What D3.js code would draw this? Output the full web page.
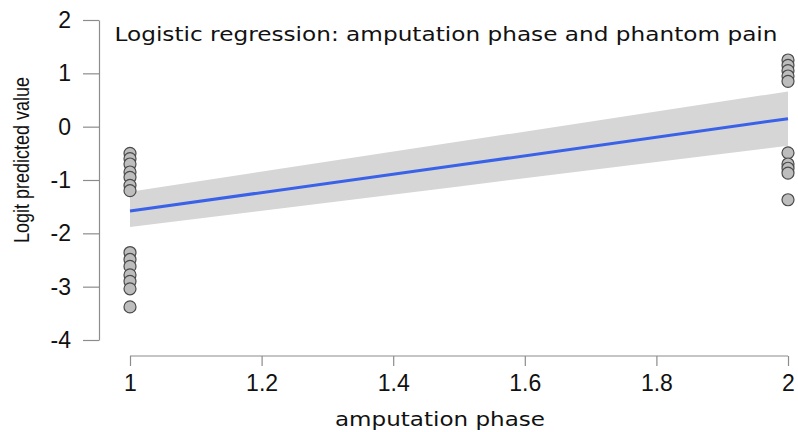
<!DOCTYPE html>
<html>
<head>
<meta charset="utf-8">
<script src="https://cdn.jsdelivr.net/npm/d3@7"></script>
<style>
  body { margin: 0; background: #fff; }
  svg { display: block; }
  .axis path, .axis line { stroke: #8c8c8c; stroke-width: 1.2; }
  .axis text { fill: #111; font-family: "Liberation Sans", Arial, sans-serif; font-size: 23px; }
</style>
</head>
<body>
<svg id="chart" width="798" height="432"></svg>
<script>
// Observed points: amputation phase (1 or 2) and logit predicted value
const phase1Values = [-0.5, -0.6, -0.7, -0.85, -0.95, -1.1, -1.2, -2.36, -2.49, -2.62, -2.78, -2.9, -3.04, -3.38];
const phase2Values = [1.25, 1.15, 1.05, 0.95, 0.85, -0.49, -0.7, -0.78, -0.87, -1.37];

// Fitted line and confidence band
const fitX = [1, 1.5, 2];
const fitY = [-1.58, -0.72, 0.15];
const bandLower = [-1.88, -1.12, -0.36];
const bandUpper = [-1.22, -0.28, 0.66];

const xTicks = [1, 1.2, 1.4, 1.6, 1.8, 2];
const yTicks = [-4, -3, -2, -1, 0, 1, 2];

const svg = d3.select('#chart');

const x = d3.scaleLinear().domain([1, 2]).range([130, 788]);
const y = d3.scaleLinear().domain([-4, 2]).range([340, 20]);

// Confidence band
const fit = fitX.map((d, i) => ({ x: d, y: fitY[i], lo: bandLower[i], hi: bandUpper[i] }));

svg.append('path')
    .datum(fit)
    .attr('fill', '#d6d6d6')
    .attr('d', d3.area().x(d => x(d.x)).y0(d => y(d.lo)).y1(d => y(d.hi)));

svg.append('path')
    .datum(fit)
    .attr('fill', 'none')
    .attr('stroke', '#3a62e8')
    .attr('stroke-width', 3)
    .attr('d', d3.line().x(d => x(d.x)).y(d => y(d.y)));

// Points
const points = phase1Values.map(v => ({ x: 1, y: v }))
    .concat(phase2Values.map(v => ({ x: 2, y: v })));

svg.append('g')
    .selectAll('circle')
    .data(points)
    .join('circle')
    .attr('cx', d => x(d.x))
    .attr('cy', d => y(d.y))
    .attr('r', 6)
    .attr('fill', '#bdbdbd')
    .attr('stroke', '#4a4a4a')
    .attr('stroke-width', 1.2);

// Axes
svg.append('g')
    .attr('class', 'axis')
    .attr('transform', 'translate(99,0)')
    .call(d3.axisLeft(y).tickValues(yTicks).tickSize(16).tickPadding(12).tickSizeOuter(0))
    .call(g => g.selectAll('text').text(d => d < 0 ? '-' + Math.abs(d) : d));

svg.append('g')
    .attr('class', 'axis')
    .attr('transform', 'translate(0,356)')
    .call(d3.axisBottom(x).tickValues(xTicks).tickSize(10).tickPadding(9).tickSizeOuter(0).tickFormat(d => d))
    .call(g => g.select('.domain').attr('d', `M${x(1)},0H${x(2)}`));

// Titles (the original image is slightly stretched horizontally)
svg.append('text')
    .attr('x', 446)
    .attr('y', 41)
    .attr('text-anchor', 'middle')
    .attr('font-family', '"DejaVu Sans", Verdana, sans-serif')
    .attr('font-size', 19)
    .attr('fill', '#111')
    .attr('textLength', 663)
    .attr('lengthAdjust', 'spacingAndGlyphs')
    .text('Logistic regression: amputation phase and phantom pain');

svg.append('text')
    .attr('x', 440)
    .attr('y', 426)
    .attr('text-anchor', 'middle')
    .attr('font-family', '"DejaVu Sans", Verdana, sans-serif')
    .attr('font-size', 19)
    .attr('fill', '#111')
    .attr('textLength', 210)
    .attr('lengthAdjust', 'spacingAndGlyphs')
    .text('amputation phase');

svg.append('text')
    .attr('transform', 'translate(29,160) scale(1.2,1) rotate(-90)')
    .attr('text-anchor', 'middle')
    .attr('font-family', '"Liberation Sans", Arial, sans-serif')
    .attr('font-size', 18)
    .attr('fill', '#111')
    .text('Logit predicted value');
</script>
</body>
</html>
